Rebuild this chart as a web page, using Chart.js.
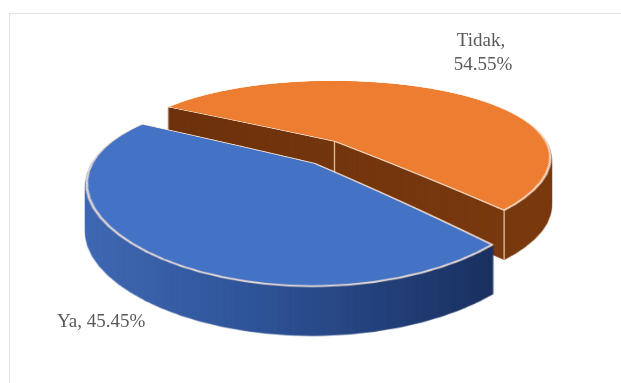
<!DOCTYPE html>
<html>
<head>
<meta charset="utf-8">
<script src="https://cdn.jsdelivr.net/npm/chart.js@4.4.0/dist/chart.umd.min.js"></script>
<style>
  html, body { margin: 0; padding: 0; background: #fff; overflow: hidden; }
  #wrap { position: relative; width: 621px; height: 383px; }
  #frame { position: absolute; left: 9px; top: 13px; width: 640px; height: 400px; border: 1px solid #e3e3e3; }
  #chart { position: absolute; left: 0; top: 0; }
</style>
</head>
<body>
<div id="wrap">
  <div id="frame"></div>
  <canvas id="chart" width="621" height="383"></canvas>
</div>
<script>
// datos del gráfico
const labels = ['Ya', 'Tidak'];
const values = [45.45, 54.55];
const topColors = ['#4472C4', '#ED7D31'];

// vista en perspectiva: centro, escalas, perspectiva vertical/horizontal y grosor
const view = { cx: 325, cy: 152, A: 217, B: 82, kappa: 0.27, kx: 0.2, depth: 49 };
// separación de cada porción (en radios del plano)
const explodeVec = [[-0.045, 0.135], [0.045, -0.135]];
const W = 621, H = 383, M = 120;

function makeCanvas(w, h) {
    const c = document.createElement('canvas');
    c.width = w;
    c.height = h;
    return c;
}

// fila de pantalla -> coordenada v normalizada del plano
function rowToV(Y) {
    const tn = (Y - view.cy) / view.B;
    const d = 1 + view.kappa * tn;
    if (d <= 0.05) return null;
    return tn / d;
}

function project(un, vn) {
    return {
        x: view.cx + view.A * un / (1 - view.kx * vn),
        y: view.cy + view.B * vn / (1 - view.kappa * vn)
    };
}

// dibuja la porción plana con Chart.js y la proyecta fila por fila
function warpSlice(el, i) {
    const b = el.outerRadius;
    const flat = makeCanvas(W + 2 * M, H + 2 * M);
    const fctx = flat.getContext('2d');
    fctx.translate(M + explodeVec[i][0] * b, M + explodeVec[i][1] * b);
    el.draw(fctx);
    const out = makeCanvas(W, H);
    const octx = out.getContext('2d');
    for (let Y = 0; Y < H; Y++) {
        const v0 = rowToV(Y), v1 = rowToV(Y + 1);
        if (v0 === null || v1 === null) continue;
        const s0 = el.y + v0 * b + M, s1 = el.y + v1 * b + M;
        if (s1 <= 0 || s0 >= H + 2 * M) continue;
        const sc = view.A / (1 - view.kx * (v0 + v1) / 2) / b;
        octx.drawImage(flat, 0, s0, W + 2 * M, s1 - s0,
            view.cx - (el.x + M) * sc, Y, (W + 2 * M) * sc, 1);
    }
    return out;
}

function sideOf(top, i) {
    const c = makeCanvas(W, H);
    const ctx = c.getContext('2d');
    ctx.drawImage(top, 0, 0);
    ctx.globalCompositeOperation = 'source-in';
    const g = ctx.createLinearGradient(85, 0, 555, 0);
    if (i === 0) {
        g.addColorStop(0, '#4069b3');
        g.addColorStop(0.4, '#2d5194');
        g.addColorStop(0.8, '#1d3568');
        g.addColorStop(1, '#15284f');
    } else {
        g.addColorStop(0, '#6a300b');
        g.addColorStop(1, '#7b3a0f');
    }
    ctx.fillStyle = g;
    ctx.fillRect(0, 0, W, H);
    return c;
}

function drawSlice(ctx, el, i) {
    const top = warpSlice(el, i);
    const side = sideOf(top, i);
    for (let dy = view.depth; dy >= 1; dy--) {
        ctx.drawImage(side, 0, dy);
    }
    // aristas verticales claras de la porción de atrás
    if (i === 1) {
        const [ex, ey] = explodeVec[i];
        const pts = [project(ex, ey),
            project(ex + Math.cos(el.endAngle), ey + Math.sin(el.endAngle))];
        ctx.save();
        ctx.strokeStyle = 'rgba(255,225,190,0.8)';
        ctx.lineWidth = 1.3;
        pts.forEach(p => {
            ctx.beginPath();
            ctx.moveTo(p.x, p.y);
            ctx.lineTo(p.x, p.y + view.depth);
            ctx.stroke();
        });
        ctx.restore();
    }
    ctx.drawImage(top, 0, 0);
}

const pie3d = {
    id: 'pie3d',
    beforeDatasetsDraw(chart) {
        const meta = chart.getDatasetMeta(0);
        // de atrás hacia adelante
        drawSlice(chart.ctx, meta.data[1], 1);
        drawSlice(chart.ctx, meta.data[0], 0);
        return false;
    },
    afterDraw(chart) {
        const ctx = chart.ctx;
        ctx.save();
        ctx.fillStyle = '#595959';
        ctx.font = '19px "Liberation Serif", "Times New Roman", serif';
        ctx.textBaseline = 'middle';
        ctx.textAlign = 'center';
        ctx.fillText(labels[1] + ',', 481, 41);
        ctx.fillText(values[1].toFixed(2) + '%', 483, 65);
        ctx.textAlign = 'left';
        ctx.fillText(labels[0] + ', ' + values[0].toFixed(2) + '%', 57, 322);
        ctx.restore();
    }
};

new Chart(document.getElementById('chart'), {
    type: 'pie',
    data: {
        labels: labels,
        datasets: [{
            data: values,
            backgroundColor: topColors,
            borderColor: 'rgba(255,236,220,0.85)',
            borderWidth: 2,
            clip: false
        }]
    },
    options: {
        responsive: false,
        animation: false,
        rotation: 137,
        plugins: {
            legend: { display: false },
            tooltip: { enabled: false }
        }
    },
    plugins: [pie3d]
});
</script>
</body>
</html>
